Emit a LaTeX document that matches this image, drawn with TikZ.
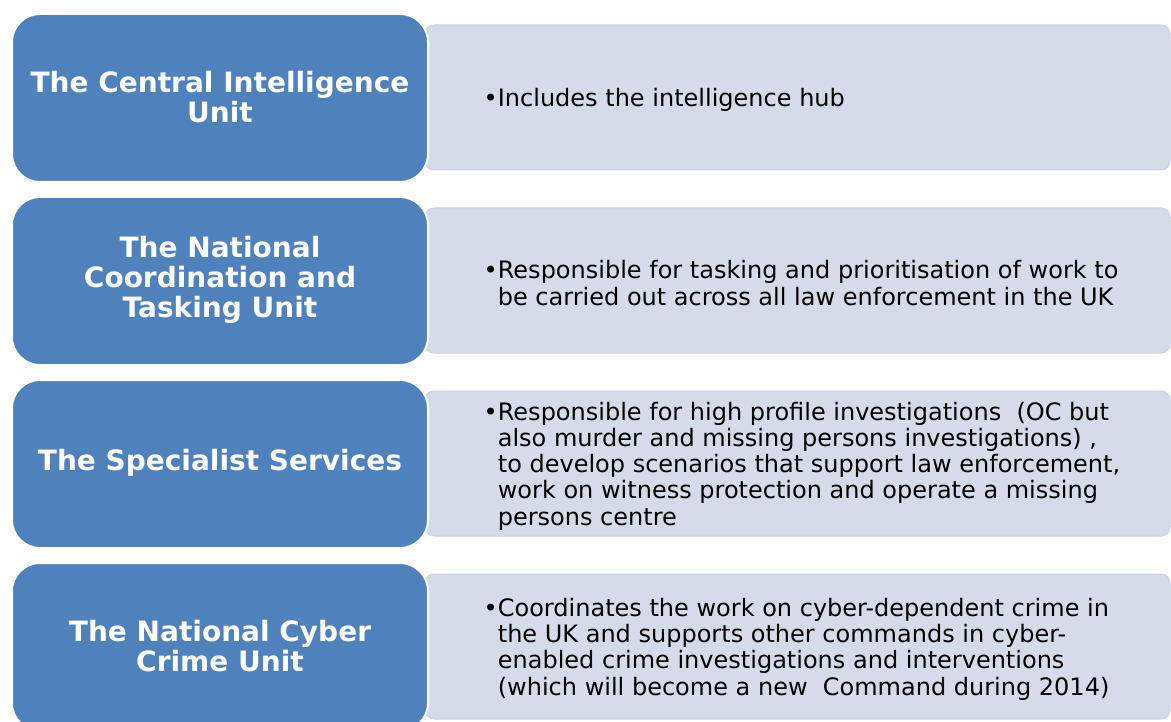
\documentclass[tikz,border=0pt]{standalone}
\usepackage{fontspec}
\setmainfont{DejaVu Sans}
\definecolor{unitblue}{HTML}{4F81BD}
\definecolor{infofill}{HTML}{D5DCE9}
\definecolor{infoedge}{HTML}{CAD2E2}
\begin{document}
\begin{tikzpicture}[x=1pt, y=-1pt,
  unit/.style={fill=unitblue, draw=white, line width=2pt, rounded corners=28pt, minimum width=416pt, minimum height=168pt},
  info/.style={fill=infofill, draw=infoedge, line width=1pt, rounded corners=9pt, minimum width=745pt, minimum height=145pt},
  title/.style={text=white, align=center, inner sep=0pt, font=\fontsize{28}{30}\selectfont\bfseries},
  body/.style={anchor=west, align=left, inner sep=0pt, font=\fontsize{24}{26.3}\selectfont}]
  \clip (0,0) rectangle (1171,722);
  % light boxes behind, blue boxes on top
  \foreach \i/\y in {1/97.5, 2/280.5, 3/463.5, 4/646.5} {\node[info] (info\i) at (797.5,\y) {};}
  \foreach \i/\y in {1/98, 2/281, 3/464, 4/647} {\node[unit] (unit\i) at (220,\y) {};}
  % unit names
  \node[title] (name1) at ([yshift=1pt]unit1) {The Central Intelligence\\Unit};
  \node[title] (name2) at ([yshift=1pt]unit2) {The National\\Coordination and\\Tasking Unit};
  \node[title] (name3) at ([yshift=1pt]unit3) {The Specialist Services};
  \node[title] (name4) at ([yshift=1pt]unit4) {The National Cyber\\Crime Unit};
  % descriptions
  \node[body] (text1) at ([xshift=59pt, yshift=-2.5pt]info1.west) {•Includes the intelligence hub};
  \node[body] (text2) at ([xshift=59pt, yshift=-2.5pt]info2.west) {•Responsible for tasking and prioritisation of work to\\\hphantom{•}be carried out across all law enforcement in the UK};
  \node[body] (text3) at ([xshift=59pt, yshift=-2.5pt]info3.west) {•Responsible for high profile investigations\ \ (OC but\\\hphantom{•}also murder and missing persons investigations) ,\\\hphantom{•}to develop scenarios that support law enforcement,\\\hphantom{•}work on witness protection and operate a missing\\\hphantom{•}persons centre};
  \node[body] (text4) at ([xshift=59pt, yshift=-2.5pt]info4.west) {•Coordinates the work on cyber-dependent crime in\\\hphantom{•}the UK and supports other commands in cyber-\\\hphantom{•}enabled crime investigations and interventions\\\hphantom{•}(which will become a new\ \ Command during 2014)};
\end{tikzpicture}
\end{document}
